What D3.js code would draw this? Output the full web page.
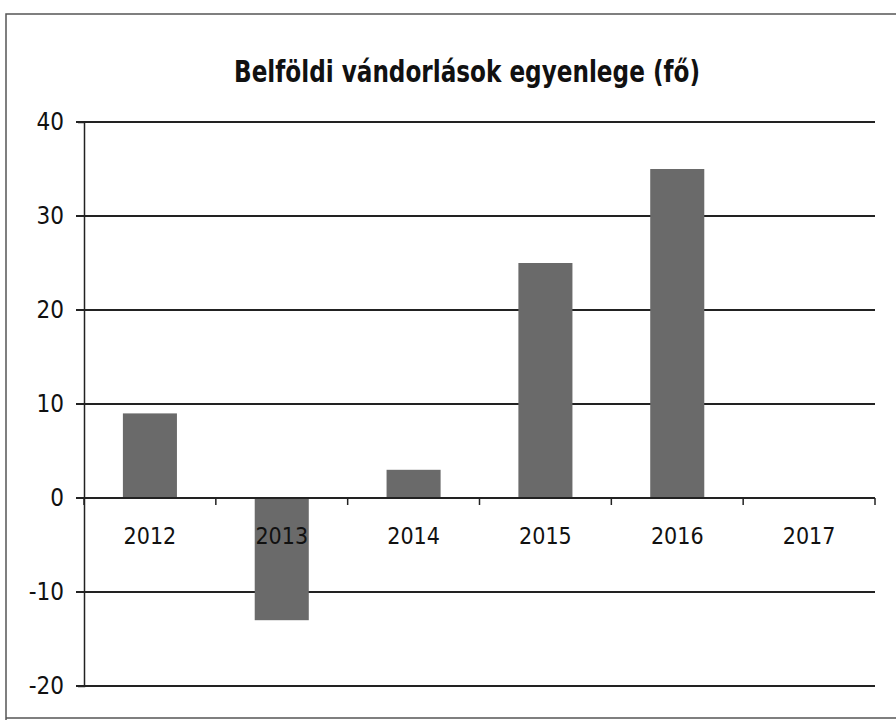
<!DOCTYPE html>
<html><head><meta charset="utf-8">
<script src="https://cdn.jsdelivr.net/npm/d3@7"></script>
<style>body{margin:0;background:#fff}svg{display:block}</style>
</head><body>
<svg id="c" width="896" height="724"></svg>
<script>
const categories = ["2012","2013","2014","2015","2016","2017"];
const values = [9, -13, 3, 25, 35, 0];
const yTicks = [-20, -10, 0, 10, 20, 30, 40];
const title = "Belföldi vándorlások egyenlege (fő)";

(function(){
const svg = d3.select("#c");
const W = 896, H = 724;
const pL = 84, pR = 875, pT = 122, pB = 686;
const font = "'DejaVu Sans Condensed','Liberation Sans Narrow','Open Sans',sans-serif";

const x = d3.scaleBand().domain(categories).range([pL, pR]).paddingInner(0.59).paddingOuter(0.295);
const xb = d3.scaleBand().domain(categories).range([pL, pR]);
const y = d3.scaleLinear().domain([-20, 40]).range([pB, pT]);

// frame
svg.append("path").attr("d", `M6,720 L6,14 L${W},14`).attr("fill","none").attr("stroke","#555").attr("stroke-width",1.5);
svg.append("line").attr("x1",6).attr("x2",W).attr("y1",718).attr("y2",718).attr("stroke","#555").attr("stroke-width",1.5);

// title
svg.append("text").attr("x", 467).attr("y", 82).attr("text-anchor","middle")
  .attr("font-family", font).attr("font-weight","bold").attr("font-size", 30)
  .attr("textLength", 466).attr("lengthAdjust","spacingAndGlyphs")
  .attr("fill","#111").text(title);

// gridlines
svg.append("g").selectAll("line").data(yTicks.filter(d => d !== 0)).join("line")
  .attr("x1", pL - 8).attr("x2", pR).attr("y1", d => y(d)).attr("y2", d => y(d))
  .attr("stroke","#222").attr("stroke-width",2);

// bars
svg.append("g").selectAll("rect").data(categories).join("rect")
  .attr("x", d => x(d)).attr("width", x.bandwidth())
  .attr("y", (d,i) => y(Math.max(0, values[i])))
  .attr("height", (d,i) => Math.abs(y(values[i]) - y(0)))
  .attr("fill","#6a6a6a");

// y axis
const ya = svg.append("g").attr("transform", `translate(${pL},0)`)
  .call(d3.axisLeft(y).tickValues(yTicks).tickSize(6).tickPadding(14).tickFormat(d => String(d)));
ya.select(".domain").attr("stroke","#222").attr("stroke-width",1.5);
ya.selectAll(".tick line").attr("stroke","#222");
ya.selectAll("text").attr("font-family", font).attr("font-size", 24).attr("fill","#111");

// x axis at zero
const xa = svg.append("g").attr("transform", `translate(0,${y(0)})`)
  .call(d3.axisBottom(xb).tickSize(0).tickPadding(30));
xa.select(".domain").remove();
xa.selectAll("text").attr("font-family", font).attr("font-size", 23).attr("fill","#111");
svg.append("line").attr("x1", pL - 8).attr("x2", pR).attr("y1", y(0)).attr("y2", y(0)).attr("stroke","#222").attr("stroke-width",2);
svg.append("g").selectAll("line").data(categories.concat(["end"])).join("line")
  .attr("x1", (d,i) => pL + i * xb.step()).attr("x2", (d,i) => pL + i * xb.step())
  .attr("y1", y(0)).attr("y2", y(0) + 7).attr("stroke","#222").attr("stroke-width",1.5);
})();
</script>
</body></html>
